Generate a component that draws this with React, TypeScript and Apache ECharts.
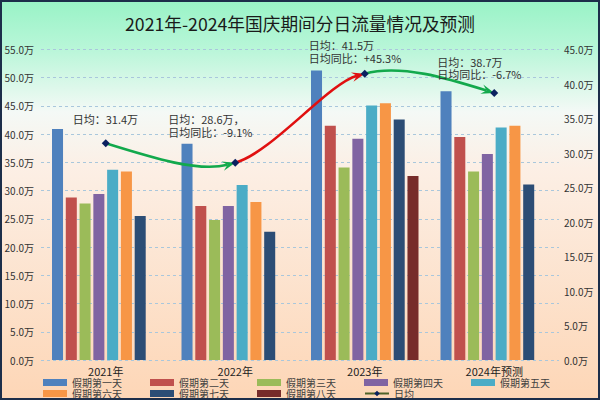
import React, { useEffect, useRef } from "react";
import * as echarts from "echarts";

const categories = ["2021年", "2022年", "2023年", "2024年预测"];
const seriesNames = ["假期第一天", "假期第二天", "假期第三天", "假期第四天", "假期第五天", "假期第六天", "假期第七天", "假期第八天"];
const day1 = [40.9, 38.3, 51.3, 47.6];
const day2 = [28.8, 27.3, 41.5, 39.5];
const day3 = [27.7, 24.8, 34.1, 33.4];
const day4 = [29.4, 27.3, 39.2, 36.5];
const day5 = [33.7, 31.0, 45.1, 41.2];
const day6 = [33.4, 28.0, 45.5, 41.5];
const day7 = [25.5, 22.7, 42.6, 31.1];
const day8: (number | null)[] = [null, null, 32.6, null];
const dailyAvg = [31.4, 28.6, 41.5, 38.7];
const avgLabels = [
  "日均：31.4万",
  "日均：28.6万，\n日均同比：-9.1%",
  "日均：41.5万\n日均同比：+45.3%",
  "日均：38.7万\n日均同比：-6.7%",
];

const barColors = ["#4f81bd", "#c0504d", "#9bbb59", "#8064a2", "#4bacc6", "#f79646", "#2c4d75", "#772c2a"];
const segColors = ["#12a94c", "#e01010", "#12a94c"];
const labelPos: [number, number][] = [[-29, -27], [-63, -45.5], [-52, -30.5], [-53, -33.5]];
const FONT = "'Noto Sans CJK SC', 'Noto Sans', sans-serif";

export default function App() {
  const ref = useRef<HTMLDivElement>(null);
  useEffect(() => {
    if (!ref.current) return;
    const chart = echarts.init(ref.current, null, { renderer: "svg" });
    const days = [day1, day2, day3, day4, day5, day6, day7, day8];
    const n = dailyAvg.length;

    const renderItem = (params: any, api: any) => {
      const i = params.dataIndex;
      if (i >= n - 1) return { type: "group", children: [] };
      const pt = (k: number) => api.coord([k, dailyAvg[k]]);
      const P1 = pt(i), P2 = pt(i + 1);
      const t = 0.14;
      let c1: number[] = [0, 0], c2: number[] = [0, 0];
      const hasPrev = i - 1 >= 0, hasNext = i + 2 <= n - 1;
      if (hasPrev) {
        const P0 = pt(i - 1);
        c1 = [P1[0] + (P2[0] - P0[0]) * t, P1[1] + (P2[1] - P0[1]) * t];
      }
      if (hasNext) {
        const P3 = pt(i + 2);
        c2 = [P2[0] - (P3[0] - P1[0]) * t, P2[1] - (P3[1] - P1[1]) * t];
      }
      if (!hasPrev) c1 = [(P1[0] + c2[0]) / 2, (P1[1] + c2[1]) / 2];
      if (!hasNext) c2 = [(P2[0] + c1[0]) / 2, (P2[1] + c1[1]) / 2];
      const color = segColors[i];
      let dx = P2[0] - c2[0], dy = P2[1] - c2[1];
      const len = Math.sqrt(dx * dx + dy * dy) || 1;
      dx /= len; dy /= len;
      const nx = -dy, ny = dx;
      const L = 13, W = 4.8;
      const bx = P2[0] - dx * L, by = P2[1] - dy * L;
      const notch = [P2[0] - dx * L * 0.62, P2[1] - dy * L * 0.62];
      return {
        type: "group",
        children: [
          {
            type: "bezierCurve",
            shape: { x1: P1[0], y1: P1[1], x2: notch[0], y2: notch[1], cpx1: c1[0], cpy1: c1[1], cpx2: c2[0], cpy2: c2[1] },
            style: { stroke: color, lineWidth: 2.6, fill: null },
          },
          {
            type: "polygon",
            shape: { points: [[P2[0], P2[1]], [bx + nx * W, by + ny * W], notch, [bx - nx * W, by - ny * W]] },
            style: { fill: color },
          },
        ],
      };
    };

    const barSeries = seriesNames.map((name, k) => ({
      name,
      type: "bar",
      data: days[k],
      itemStyle: { color: barColors[k] },
      barGap: "25%",
      barCategoryGap: "17%",
      z: 2,
    }));

    const legendText = { fontSize: 10, lineHeight: 10, color: "#404040", width: 71, fontFamily: FONT };

    chart.setOption({
      animation: false,
      backgroundColor: new echarts.graphic.LinearGradient(0, 0, 0, 1, [
        { offset: 0, color: "#98f3c6" },
        { offset: 0.12, color: "#b8f6d8" },
        { offset: 0.28, color: "#f4f9f6" },
        { offset: 0.42, color: "#fcefe5" },
        { offset: 1, color: "#fdd6b6" },
      ]),
      textStyle: { fontFamily: FONT },
      title: {
        text: "2021年-2024年国庆期间分日流量情况及预测",
        left: "center",
        top: 9,
        textStyle: { fontSize: 17.7, fontWeight: "normal", color: "#1a1a1a", fontFamily: FONT },
      },
      graphic: [
        {
          type: "rect",
          shape: { x: 1, y: 1, width: 598, height: 398 },
          style: { fill: null, stroke: "#1c2e4a", lineWidth: 2 },
          silent: true,
          z: 100,
        },
      ],
      grid: { left: 41, right: 41, top: 49.5, bottom: 40, containLabel: false },
      legend: [
        {
          left: 43,
          top: 377.5,
          itemWidth: 24,
          itemHeight: 7,
          itemGap: 7,
          padding: 0,
          textStyle: legendText,
          data: seriesNames.slice(0, 5).map((nm) => ({ name: nm, icon: "rect" })),
        },
        {
          left: 43,
          top: 388.5,
          itemWidth: 24,
          itemHeight: 7,
          itemGap: 7,
          padding: 0,
          textStyle: legendText,
          data: [
            ...seriesNames.slice(5).map((nm) => ({ name: nm, icon: "rect" })),
            { name: "日均", itemStyle: { color: "#0b2160" }, lineStyle: { color: "#4f6228", width: 2, opacity: 1 } },
          ],
        },
      ],
      xAxis: {
        type: "category",
        data: categories,
        axisLine: { show: false },
        axisTick: { show: false },
        axisLabel: { fontSize: 11, lineHeight: 11, color: "#222", margin: 5, fontFamily: FONT },
        splitLine: { show: false },
      },
      yAxis: [
        {
          type: "value",
          min: 0,
          max: 55,
          interval: 5,
          axisLine: { show: false },
          axisTick: { show: false },
          axisLabel: { fontSize: 10, color: "#333", margin: 7, formatter: (v: number) => v.toFixed(1) + "万", fontFamily: FONT },
          splitLine: { show: true, lineStyle: { color: "#a9c7dc", type: [3, 3], width: 1 } },
        },
        {
          type: "value",
          min: 0,
          max: 45,
          interval: 5,
          axisLine: { show: false },
          axisTick: { show: false },
          axisLabel: { fontSize: 10, color: "#333", margin: 5, formatter: (v: number) => v.toFixed(1) + "万", fontFamily: FONT },
          splitLine: { show: false },
        },
      ],
      series: [
        ...barSeries,
        {
          name: "日均曲线",
          type: "custom",
          yAxisIndex: 1,
          renderItem,
          data: dailyAvg.map((v, i) => [i, v]),
          encode: { x: 0, y: 1 },
          z: 3,
          silent: true,
        },
        {
          name: "日均",
          type: "line",
          yAxisIndex: 1,
          data: dailyAvg.map((v, i) => ({
            value: v,
            label: {
              show: true,
              position: labelPos[i],
              formatter: () => avgLabels[i],
            },
          })),
          symbol: "diamond",
          symbolSize: 8,
          itemStyle: { color: "#0b2160" },
          lineStyle: { opacity: 0, color: "#4f6228", width: 2 },
          label: {
            show: true,
            fontSize: 11,
            color: "#333",
            lineHeight: 12.5,
            align: "left",
            verticalAlign: "top",
            fontFamily: FONT,
          },
          z: 4,
        },
      ],
    });
    return () => chart.dispose();
  }, []);
  return <div ref={ref} style={{ position: "fixed", left: 0, top: 0, width: 600, height: 400 }} />;
}
